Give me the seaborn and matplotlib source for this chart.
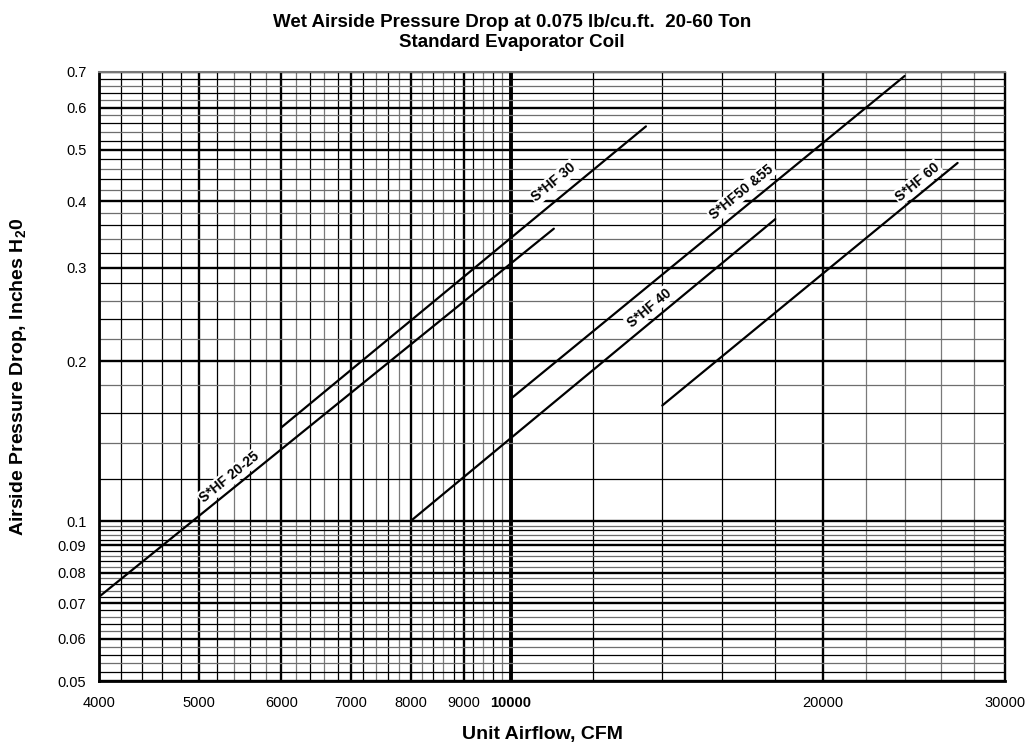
import numpy as np
import pandas as pd
import matplotlib.pyplot as plt
import seaborn as sns
from matplotlib.ticker import NullFormatter

# Coil curves (straight lines on log-log paper) at their ends
series = ["S*HF 20-25", "S*HF 30", "S*HF 40", "S*HF50 &55", "S*HF 60"]
cfm_start = [4000, 6000, 8000, 10000, 14000]
cfm_end = [11000, 13500, 18000, 24000, 27000]
dp_start = [0.072, 0.150, 0.100, 0.170, 0.165]
dp_end = [0.355, 0.553, 0.370, 0.688, 0.472]

# Where the curve names sit
label_cfm = [5350, 11000, 13600, 16700, 24700]
label_dp = [0.121, 0.434, 0.252, 0.416, 0.434]

x_ticks = [4000, 5000, 6000, 7000, 8000, 9000, 10000, 20000, 30000]
x_tick_labels = ["4000", "5000", "6000", "7000", "8000", "9000", "10000", "20000", "30000"]
y_ticks = [0.05, 0.06, 0.07, 0.08, 0.09, 0.1, 0.2, 0.3, 0.4, 0.5, 0.6, 0.7]
y_tick_labels = ["0.05", "0.06", "0.07", "0.08", "0.09", "0.1", "0.2", "0.3", "0.4", "0.5", "0.6", "0.7"]

# Build a long table for seaborn
rows = []
for name, x0, x1, y0, y1 in zip(series, cfm_start, cfm_end, dp_start, dp_end):
    rows.append({"series": name, "cfm": x0, "dp": y0})
    rows.append({"series": name, "cfm": x1, "dp": y1})
df = pd.DataFrame(rows)

sns.set_style("white")
plt.rcParams["font.family"] = ["Liberation Sans", "DejaVu Sans"]
plt.rcParams["mathtext.fontset"] = "custom"
plt.rcParams["mathtext.rm"] = "Liberation Sans"
plt.rcParams["mathtext.bf"] = "Liberation Sans:bold"
plt.rcParams["text.color"] = "black"
plt.rcParams["xtick.color"] = "black"
plt.rcParams["ytick.color"] = "black"

fig = plt.figure(figsize=(10.3, 7.53), dpi=100)
ax = fig.add_axes([0.0961, 0.0956, 0.8796, 0.8088])

ax.set_xscale("log")
ax.set_yscale("log")
ax.set_xlim(4000, 30000)
ax.set_ylim(0.05, 0.7)

# Graph paper grid
x_minor = list(np.arange(4200, 10000, 200)) + list(np.arange(12000, 30000, 2000))
y_minor = list(np.arange(0.052, 0.1, 0.002)) + list(np.arange(0.12, 0.7, 0.02))
ax.set_xticks(x_ticks)
ax.set_xticks(x_minor, minor=True)
ax.set_yticks(y_ticks)
ax.set_yticks(y_minor, minor=True)
ax.set_xticklabels(x_tick_labels)
ax.set_yticklabels(y_tick_labels)
ax.xaxis.set_minor_formatter(NullFormatter())
ax.yaxis.set_minor_formatter(NullFormatter())
ax.tick_params(which="both", length=0, labelcolor="black")
ax.tick_params(axis="x", pad=11, labelsize=10.5)
ax.tick_params(axis="y", pad=9, labelsize=10.5)
for lbl in ax.get_xticklabels():
    if lbl.get_text() == "10000":
        lbl.set_fontweight("bold")

ax.grid(which="major", color="black", linewidth=1.7, zorder=0)
ax.grid(which="minor", color="black", linewidth=0.9, zorder=0)
ax.set_axisbelow(True)

for gl, loc in zip(ax.xaxis.get_gridlines(), x_ticks):
    if loc == 10000:
        gl.set_linewidth(2.8)
# some of the thin lines print lighter on the original sheet
for tick, loc in zip(ax.xaxis.get_minor_ticks(), ax.xaxis.get_minorticklocs()):
    if loc > 20000 or (5000 < loc < 10000 and round(loc / 200) % 2 == 1):
        tick.gridline.set_color("#7a7a7a")
for tick, loc in zip(ax.yaxis.get_minor_ticks(), ax.yaxis.get_minorticklocs()):
    if (loc < 0.1 and round(loc / 0.002) % 2 == 1) or (loc > 0.1 and round(loc / 0.02) % 2 == 1):
        tick.gridline.set_color("#6e6e6e")

for side in ["left", "bottom"]:
    ax.spines[side].set_color("black")
    ax.spines[side].set_linewidth(2.0)
ax.spines["right"].set_color("black")
ax.spines["right"].set_linewidth(1.0)
ax.spines["top"].set_color("#777777")
ax.spines["top"].set_linewidth(1.5)

sns.lineplot(data=df, x="cfm", y="dp", units="series", estimator=None,
             color="black", linewidth=1.6, ax=ax, zorder=3, legend=False)

# Curve labels, rotated along each line
for name, x0, x1, y0, y1, lx, ly in zip(series, cfm_start, cfm_end, dp_start, dp_end,
                                        label_cfm, label_dp):
    p0 = ax.transData.transform((x0, y0))
    p1 = ax.transData.transform((x1, y1))
    angle = np.degrees(np.arctan2(p1[1] - p0[1], p1[0] - p0[0]))
    ax.text(lx, ly, name, rotation=angle, rotation_mode="anchor", ha="center", va="center",
            fontsize=10, fontweight="bold", zorder=4,
            bbox=dict(boxstyle="square,pad=0.1", fc="white", ec="none"))

ax.set_xlabel("")
ax.set_ylabel("")
fig.text(0.497, 0.982, "Wet Airside Pressure Drop at 0.075 lb/cu.ft.  20-60 Ton\nStandard Evaporator Coil",
         ha="center", va="top", fontsize=13.5, fontweight="bold", linespacing=1.25)
fig.text(0.527, 0.024, "Unit Airflow, CFM", ha="center", va="center",
         fontsize=14, fontweight="bold")
fig.text(0.018, 0.5, r"Airside Pressure Drop, Inches H$_\mathbf{2}$0", ha="center", va="center",
         rotation=90, fontsize=14, fontweight="bold")

fig.savefig("out.png", dpi=100)
